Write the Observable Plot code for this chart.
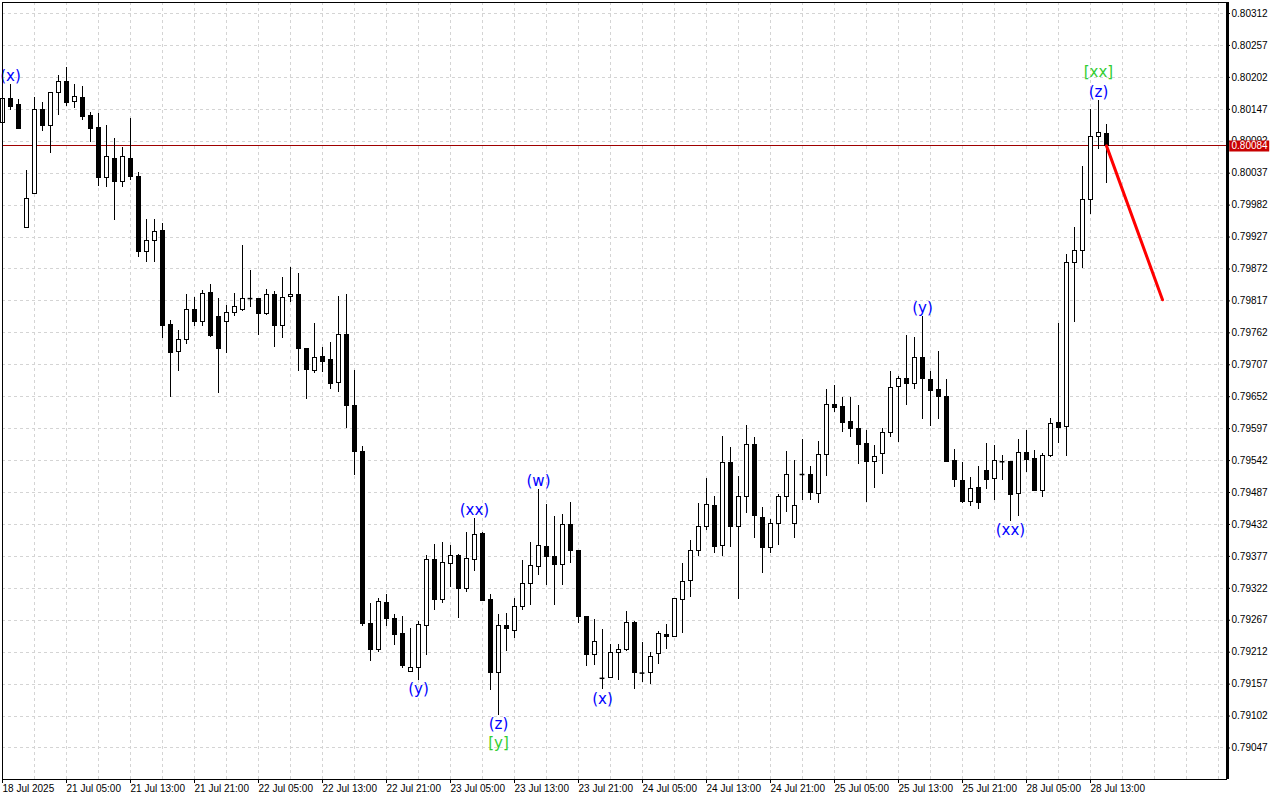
<!DOCTYPE html>
<html><head><meta charset="utf-8">
<script src="https://cdn.jsdelivr.net/npm/d3@7"></script>
<script src="https://cdn.jsdelivr.net/npm/@observablehq/plot@0.6"></script>
<style>html,body{margin:0;padding:0;background:#fff;} #chart svg{display:block;}</style>
</head><body><div id="chart"></div>
<script>
// Hourly candles, bar 0 = 18 Jul 2025 21:00
const open = [0.80124,0.80164,0.80154,0.79943,0.80001,0.80145,0.80118,0.80175,0.80194,0.80160,
0.80167,0.80135,0.80114,0.80029,0.80062,0.80022,0.80062,0.80031,0.79901,0.79921,
0.79937,0.79776,0.79729,0.79750,0.79802,0.79781,0.79831,0.79790,0.79781,0.79796,
0.79802,0.79821,0.79821,0.79794,0.79828,0.79773,0.79824,0.79828,0.79734,0.79697,
0.79720,0.79716,0.79675,0.79759,0.79636,0.79557,0.79261,0.79216,0.79297,0.79269,
0.79244,0.79178,0.79185,0.79257,0.79371,0.79302,0.79364,0.79378,0.79320,0.79371,
0.79416,0.79302,0.79176,0.79257,0.79249,0.79290,0.79330,0.79359,0.79393,0.79376,
0.79362,0.79431,0.79386,0.79272,0.79207,0.79167,0.79168,0.79210,0.79215,0.79263,
0.79176,0.79176,0.79209,0.79242,0.79238,0.79302,0.79335,0.79386,0.79428,0.79464,
0.79395,0.79538,0.79428,0.79479,0.79569,0.79443,0.79392,0.79433,0.79479,0.79433,
0.79518,0.79518,0.79485,0.79552,0.79638,0.79635,0.79608,0.79597,0.79570,0.79540,
0.79554,0.79590,0.79669,0.79683,0.79674,0.79719,0.79681,0.79663,0.79651,0.79542,
0.79507,0.79470,0.79494,0.79524,0.79511,0.79540,0.79540,0.79484,0.79555,0.79544,
0.79489,0.79550,0.79606,0.79600,0.79883,0.79903,0.79991,0.80100,0.80105];
const high = [0.80171,0.80190,0.80164,0.80042,0.80167,0.80158,0.80176,0.80205,0.80219,0.80190,
0.80186,0.80141,0.80139,0.80119,0.80097,0.80081,0.80131,0.80038,0.79957,0.79957,
0.79950,0.79783,0.79766,0.79828,0.79823,0.79835,0.79845,0.79821,0.79809,0.79829,
0.79912,0.79869,0.79822,0.79836,0.79833,0.79857,0.79874,0.79865,0.79735,0.79778,
0.79737,0.79745,0.79825,0.79828,0.79697,0.79567,0.79296,0.79304,0.79311,0.79277,
0.79274,0.79253,0.79264,0.79378,0.79397,0.79401,0.79395,0.79381,0.79419,0.79443,
0.79418,0.79311,0.79277,0.79279,0.79304,0.79370,0.79401,0.79492,0.79466,0.79445,
0.79450,0.79470,0.79388,0.79273,0.79269,0.79251,0.79226,0.79226,0.79282,0.79264,
0.79228,0.79211,0.79248,0.79259,0.79305,0.79365,0.79404,0.79468,0.79511,0.79480,
0.79583,0.79564,0.79514,0.79602,0.79581,0.79462,0.79440,0.79483,0.79557,0.79542,
0.79578,0.79532,0.79575,0.79664,0.79671,0.79651,0.79651,0.79637,0.79594,0.79568,
0.79598,0.79695,0.79686,0.79757,0.79754,0.79790,0.79695,0.79730,0.79681,0.79561,
0.79539,0.79513,0.79531,0.79571,0.79568,0.79551,0.79541,0.79578,0.79594,0.79559,
0.79554,0.79614,0.79778,0.79897,0.79943,0.80049,0.80146,0.80162,0.80120];
const low = [0.80121,0.80145,0.80112,0.79942,0.80000,0.80109,0.80071,0.80136,0.80151,0.80148,
0.80128,0.80089,0.80014,0.80013,0.79956,0.80013,0.80024,0.79891,0.79884,0.79884,
0.79753,0.79650,0.79696,0.79742,0.79773,0.79773,0.79754,0.79657,0.79727,0.79791,
0.79798,0.79806,0.79758,0.79792,0.79736,0.79753,0.79815,0.79696,0.79648,0.79692,
0.79693,0.79665,0.79660,0.79597,0.79517,0.79257,0.79196,0.79212,0.79257,0.79223,
0.79184,0.79177,0.79164,0.79207,0.79284,0.79296,0.79324,0.79270,0.79315,0.79351,
0.79299,0.79146,0.79103,0.79213,0.79236,0.79284,0.79293,0.79344,0.79327,0.79293,
0.79327,0.79365,0.79261,0.79188,0.79189,0.79147,0.79167,0.79163,0.79214,0.79147,
0.79160,0.79157,0.79190,0.79216,0.79237,0.79245,0.79307,0.79377,0.79421,0.79382,
0.79376,0.79393,0.79303,0.79451,0.79407,0.79348,0.79382,0.79396,0.79453,0.79407,
0.79473,0.79473,0.79468,0.79515,0.79625,0.79591,0.79582,0.79536,0.79469,0.79494,
0.79518,0.79582,0.79574,0.79637,0.79664,0.79612,0.79601,0.79612,0.79538,0.79495,
0.79468,0.79463,0.79457,0.79492,0.79473,0.79508,0.79437,0.79446,0.79522,0.79488,
0.79479,0.79548,0.79571,0.79549,0.79780,0.79873,0.79966,0.80077,0.80020];
const close = [0.80165,0.80151,0.80113,0.79992,0.80146,0.80118,0.80175,0.80194,0.80157,0.80169,
0.80133,0.80113,0.80028,0.80064,0.80022,0.80065,0.80030,0.79901,0.79921,0.79936,
0.79773,0.79727,0.79750,0.79802,0.79781,0.79829,0.79757,0.79734,0.79796,0.79807,
0.79821,0.79821,0.79794,0.79828,0.79773,0.79822,0.79828,0.79734,0.79698,0.79719,
0.79712,0.79674,0.79759,0.79636,0.79556,0.79260,0.79216,0.79298,0.79269,0.79242,
0.79188,0.79185,0.79259,0.79371,0.79302,0.79366,0.79378,0.79320,0.79373,0.79414,
0.79300,0.79176,0.79257,0.79252,0.79290,0.79330,0.79360,0.79395,0.79376,0.79362,
0.79431,0.79386,0.79272,0.79207,0.79230,0.79167,0.79211,0.79215,0.79263,0.79176,
0.79176,0.79204,0.79244,0.79239,0.79304,0.79333,0.79386,0.79428,0.79466,0.79393,
0.79538,0.79428,0.79479,0.79569,0.79446,0.79391,0.79433,0.79479,0.79518,0.79464,
0.79518,0.79486,0.79552,0.79638,0.79632,0.79606,0.79596,0.79569,0.79539,0.79549,
0.79590,0.79667,0.79682,0.79674,0.79719,0.79682,0.79662,0.79651,0.79540,0.79508,
0.79470,0.79493,0.79469,0.79509,0.79542,0.79540,0.79482,0.79555,0.79543,0.79489,
0.79550,0.79605,0.79598,0.79883,0.79903,0.79991,0.80100,0.80107,0.80084];

const yTicks = [0.80312,0.80257,0.80202,0.80147,0.80092,0.80037,0.79982,0.79927,0.79872,0.79817,
0.79762,0.79707,0.79652,0.79597,0.79542,0.79487,0.79432,0.79377,0.79322,0.79267,
0.79212,0.79157,0.79102,0.79047];
const xTickBars = [0,8,16,24,32,40,48,56,64,72,80,88,96,104,112,120,128,136];
const xTickLabels = ["18 Jul 2025","21 Jul 05:00","21 Jul 13:00","21 Jul 21:00","22 Jul 05:00",
"22 Jul 13:00","22 Jul 21:00","23 Jul 05:00","23 Jul 13:00","23 Jul 21:00","24 Jul 05:00",
"24 Jul 13:00","24 Jul 21:00","25 Jul 05:00","25 Jul 13:00","25 Jul 21:00","28 Jul 05:00","28 Jul 13:00"];
const gridBars = d3.range(0, 153, 4);

const currentPrice = 0.80084;
const projectionBars = [138, 145];
const projectionPrices = [0.80084, 0.79819];

const waveLabels = ["(x)","(y)","(xx)","(w)","(z)","[y]","(x)","(y)","(xx)","(z)","[xx]"];
const waveBars   = [1, 52, 59, 67, 62, 62, 75, 115, 126, 137, 137];
const waveSides  = ["above","below","above","above","below","below","below","above","below","above","above"];
const waveDegree = ["minor","minor","minor","minor","minor","major","minor","minor","minor","minor","major"];

const candles = open.map((o, i) => ({i, open: o, high: high[i], low: low[i], close: close[i]}));
const bodies = candles.filter(d => d.open !== d.close);
const dojis = candles.filter(d => d.open === d.close);
const projection = projectionBars.map((b, k) => ({i: b, p: projectionPrices[k]}));
const waves = waveLabels.map((t, k) => ({t, i: waveBars[k], side: waveSides[k], deg: waveDegree[k],
  p: waveSides[k] === "above" ? high[waveBars[k]] : low[waveBars[k]]}));
const labelOf = new Map(xTickBars.map((b, k) => [b, xTickLabels[k]]));
const fmt = d3.format(".5f");
const xMax = 153;
const blue = "#0000ff", green = "#32cd32";
const waveFont = {fontFamily: "'DejaVu Sans', Verdana, sans-serif", fontSize: 15, textAnchor: "middle", lineAnchor: "middle"};
const crisp = {shapeRendering: "crispEdges"};

const chart = Plot.plot({
  width: 1280, height: 800,
  marginLeft: 2, marginRight: 54, marginTop: 2, marginBottom: 21,
  style: {fontFamily: "'Liberation Sans', Arial, sans-serif", fontSize: "10px", background: "#fff", color: "#000"},
  x: {domain: [0, xMax], axis: null},
  y: {domain: [0.7899274, 0.8033095], axis: null},
  marks: [
    Plot.gridY(yTicks, {stroke: "#d4d4d4", strokeOpacity: 1, strokeDasharray: "3,3", ...crisp}),
    Plot.gridX(gridBars, {stroke: "#d4d4d4", strokeOpacity: 1, strokeDasharray: "3,3", ...crisp}),
    Plot.ruleY([currentPrice], {stroke: "#a00000", strokeWidth: 1, ...crisp}),
    Plot.ruleX(candles, {x: "i", y1: "low", y2: "high", stroke: "#000", ...crisp}),
    Plot.rect(bodies, {x1: d => d.i - 0.25, x2: d => d.i + 0.25, y1: "open", y2: "close",
      fill: d => d.close > d.open ? "#fff" : "#000", stroke: "#000", ...crisp}),
    Plot.ruleY(dojis, {y: "close", x1: d => d.i - 0.3, x2: d => d.i + 0.3, stroke: "#000", strokeWidth: 1.5}),
    Plot.line(projection, {x: "i", y: "p", stroke: "#ff0000", strokeWidth: 3}),
    Plot.text(waves.filter(d => d.deg === "minor" && d.side === "above"), {x: "i", y: "p", text: "t", dy: -8, fill: blue, ...waveFont}),
    Plot.text(waves.filter(d => d.deg === "minor" && d.side === "below"), {x: "i", y: "p", text: "t", dy: 9, fill: blue, ...waveFont}),
    Plot.text(waves.filter(d => d.deg === "major" && d.side === "above"), {x: "i", y: "p", text: "t", dy: -28, fill: green, ...waveFont}),
    Plot.text(waves.filter(d => d.deg === "major" && d.side === "below"), {x: "i", y: "p", text: "t", dy: 28, fill: green, ...waveFont}),
    Plot.frame({stroke: "#000", ...crisp}),
    Plot.ruleX([xMax], {stroke: "#000", strokeWidth: 2, dx: 1, ...crisp}),
    Plot.axisY(yTicks, {anchor: "right", tickSize: 3, tickPadding: 2, tickFormat: fmt, label: null}),
    Plot.axisX(xTickBars, {anchor: "bottom", tickSize: 4, tickPadding: 1, tickFormat: d => labelOf.get(d), textAnchor: "start", label: null}),
    Plot.ruleY([currentPrice], {x1: xMax + 0.4, x2: xMax + 5.4, stroke: "#c80000", strokeWidth: 11, clip: false}),
    Plot.text([currentPrice], {x: xMax, y: d => d, dx: 5, text: d => fmt(d), fill: "#fff", textAnchor: "start"})
  ]
});
document.getElementById("chart").appendChild(chart);
</script>
</body></html>
